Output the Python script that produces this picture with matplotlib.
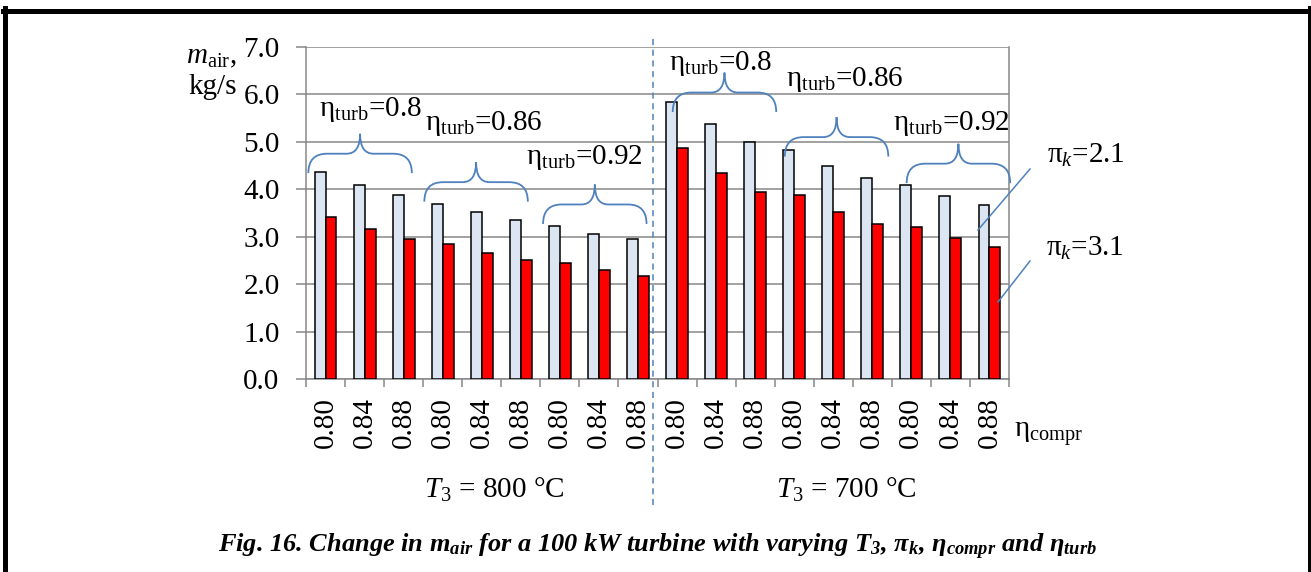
import matplotlib
matplotlib.use("Agg")
import matplotlib.pyplot as plt
from matplotlib.path import Path
import matplotlib.patches as mpatches
from matplotlib.lines import Line2D
import numpy as np

# data
compr_labels = ["0.80", "0.84", "0.88"] * 6
pi_21 = [4.37, 4.09, 3.87, 3.70, 3.52, 3.35, 3.23, 3.06, 2.95,
         5.85, 5.37, 4.99, 4.82, 4.49, 4.23, 4.10, 3.86, 3.66]
pi_31 = [3.42, 3.16, 2.95, 2.85, 2.65, 2.51, 2.44, 2.30, 2.18,
         4.87, 4.34, 3.95, 3.87, 3.53, 3.27, 3.21, 2.97, 2.78]
turb_labels = ["0.8", "0.86", "0.92", "0.8", "0.86", "0.92"]
t3_labels = ["800", "700"]

plt.rcParams['font.family'] = ['Liberation Serif', 'DejaVu Serif']
plt.rcParams['mathtext.fontset'] = 'custom'
plt.rcParams['mathtext.rm'] = 'Liberation Serif'
plt.rcParams['mathtext.it'] = 'Liberation Serif:italic'
plt.rcParams['mathtext.bf'] = 'Liberation Serif:bold'
plt.rcParams['mathtext.bfit'] = 'Liberation Serif:bold:italic'

W, H = 1311, 572
fig = plt.figure(figsize=(W / 100, H / 100), dpi=100)
ax = fig.add_axes([306 / W, 1 - 379 / H, 703 / W, 332 / H])

grey = '#878787'
blue = '#4f81bd'
fs = 21

x = np.arange(len(pi_21))
bw = 0.28
ax.bar(x - bw / 2, pi_21, bw, color='#dce6f2', edgecolor='black', linewidth=1.1, zorder=3)
ax.bar(x + bw / 2, pi_31, bw, color='#ff0000', edgecolor='black', linewidth=1.1, zorder=3)

ax.set_xlim(-0.5, len(x) - 0.5)
ax.set_ylim(0, 7)
ax.set_yticks(np.arange(0, 7.1, 1.0))
ax.set_yticklabels([f"{v:.1f}" for v in np.arange(0, 7.1, 1.0)], fontsize=fs)
ax.set_xticks(x)
ax.set_xticklabels(compr_labels, rotation=90, fontsize=fs, va='top')
ax.set_xticks(np.arange(-0.5, len(x), 1.0), minor=True)
ax.tick_params(axis='x', which='major', length=0, pad=13)
ax.tick_params(axis='x', which='minor', length=6, color=grey, width=1.1)
ax.tick_params(axis='y', length=7, color=grey, width=1.1, pad=12)
ax.grid(axis='y', color=grey, linewidth=1.1)
ax.set_axisbelow(True)
for s in ax.spines.values():
    s.set_color(grey)
    s.set_linewidth(1.1)
ax.spines['top'].set_visible(False)


def brace(x0, y0, w=2.65, h1=0.41, h2=0.42):
    xm = x0 + w / 2
    x1 = x0 + w
    yh = y0 + h1
    verts = [(x0, y0), (x0, yh), (x0 + 0.18 * w, yh),
             (xm - 0.13 * w, yh), (xm, yh), (xm, yh + h2),
             (xm, yh), (xm + 0.13 * w, yh),
             (x1 - 0.18 * w, yh), (x1, yh), (x1, y0)]
    codes = [Path.MOVETO, Path.CURVE3, Path.CURVE3,
             Path.LINETO, Path.CURVE3, Path.CURVE3,
             Path.CURVE3, Path.CURVE3,
             Path.LINETO, Path.CURVE3, Path.CURVE3]
    ax.add_patch(mpatches.PathPatch(Path(verts, codes), fill=False, edgecolor=blue,
                                    linewidth=1.3, clip_on=False, zorder=4))


brace_pos = [(-0.44, 4.34), (2.53, 3.74), (5.57, 3.27),
             (8.89, 5.63), (11.76, 4.69), (14.88, 4.13)]
for bx, by in brace_pos:
    brace(bx, by)

# eta_turb labels (pixel positions)
turb_pos = [(370, 110), (484, 124), (584, 157), (720, 64), (845, 79), (951, 124)]
for (px, py), lab in zip(turb_pos, turb_labels):
    fig.text(px / W, 1 - py / H, "η$_{\\mathrm{turb}}$=" + lab, fontsize=fs,
             ha='center', va='center')

# dashed separator
ax.plot([8.38, 8.38], [7.16, -2.71], color=blue, linestyle=(0, (4, 3)),
        linewidth=1.1, clip_on=False, zorder=5)

# y label
fig.text(237 / W, 1 - 57 / H, "$m_{\\mathrm{air}}$,", fontsize=fs, ha='right', va='center')
fig.text(237 / W, 1 - 87 / H, "kg/s", fontsize=fs, ha='right', va='center')

# eta_compr
fig.text(1014 / W, 1 - 434 / H, "η$_{\\mathrm{compr}}$", fontsize=fs, ha='left', va='center')

# T3 labels
for cx, t in zip([494, 846], t3_labels):
    fig.text(cx / W, 1 - 490 / H, "$T_3$ = " + t + " °C", fontsize=fs, ha='center', va='center')

# pi_k labels and leader lines
fig.text(1086 / W, 1 - 155 / H, "π$_k$=2.1", fontsize=fs, ha='center', va='center')
fig.text(1085 / W, 1 - 248 / H, "π$_k$=3.1", fontsize=fs, ha='center', va='center')
for (xa, ya, xb, yb) in [(1030, 169, 978, 230), (1030, 261, 998, 302)]:
    fig.add_artist(Line2D([xa / W, xb / W], [1 - ya / H, 1 - yb / H], color=blue, linewidth=1.1))

# caption
fig.text(658 / W, 1 - 547 / H,
         "Fig. 16. Change in $\\mathbfit{m}_{\\mathbfit{air}}$ for a 100 kW turbine with varying "
         "$\\mathbfit{T}_{\\mathbfit{3}}$, π$_{\\mathbfit{k}}$, η$_{\\mathbfit{compr}}$ and η$_{\\mathbfit{turb}}$",
         fontsize=19, fontweight='bold', fontstyle='italic', ha='center', va='center')

# frame
lw = 3.6
fig.add_artist(Line2D([3 / W, 1], [1 - 10.5 / H, 1 - 10.5 / H], color='black', linewidth=lw))
fig.add_artist(Line2D([5 / W, 5 / W], [0, 1 - 8 / H], color='black', linewidth=lw))
fig.add_artist(Line2D([1309.5 / W, 1309.5 / W], [0, 1 - 8 / H], color='black', linewidth=lw))

fig.savefig("out.png", dpi=100)
